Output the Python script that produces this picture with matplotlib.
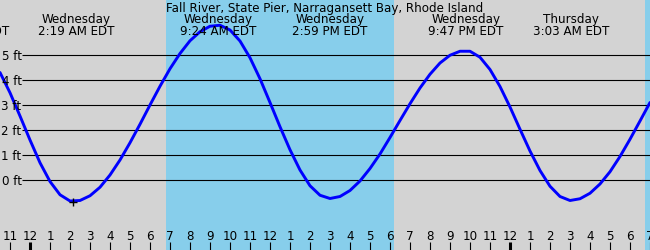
"""
Tide chart - Fall River, State Pier, Narragansett Bay, Rhode Island.
Horas contadas a partir da meia-noite de quarta-feira (EDT).
"""

import matplotlib
matplotlib.use("Agg")
import matplotlib.pyplot as plt
import numpy as np

TITLE = "Fall River, State Pier, Narragansett Bay, Rhode Island"

# leituras da curva (a cada meia hora, de -1.5 h a 31 h) em ft
HOURS = np.arange(-1.5, 31.01, 0.5)
HEIGHT_FT = [4.30, 3.49, 2.56, 1.60, 0.69, -0.06, -0.59, -0.84,
             -0.82, -0.63, -0.29, 0.20, 0.80, 1.49, 2.23, 3.00, 3.75, 4.45, 5.06, 5.57, 5.93, 6.15,
             6.19, 6.00, 5.56, 4.89, 4.05, 3.10, 2.13, 1.21, 0.40, -0.23, -0.61, -0.74,
             -0.66, -0.42, -0.04, 0.46, 1.04, 1.70, 2.38, 3.05, 3.68, 4.23, 4.68, 4.99, 5.15,
             5.15, 4.91, 4.42, 3.74, 2.92, 2.03, 1.16, 0.38, -0.25, -0.66, -0.82,
             -0.75, -0.53, -0.16, 0.33, 0.94, 1.63, 2.36, 3.10]

# preamar / baixa-mar
EVENT_HOURS = [-2.93, 2.317, 9.4, 14.983, 21.783, 27.05]
EVENT_DAYS = ["Tuesday", "Wednesday", "Wednesday", "Wednesday", "Wednesday", "Thursday"]
EVENT_TIMES = ["9:04 PM EDT", "2:19 AM EDT", "9:24 AM EDT", "2:59 PM EDT", "9:47 PM EDT", "3:03 AM EDT"]

# periodos de luz do dia (nascer, por do sol)
DAYLIGHT = [(6.8, 18.2), (30.75, 43.0)]

FT_LEVELS = [0, 1, 2, 3, 4, 5]
HOUR_TICKS = list(range(-1, 32))
NOW_HOUR, NOW_FT = 2.17, -0.88

X0, X1 = -1.5, 31.0
Y0, Y1 = -2.8, 7.2
FS = 8.6
GRAY = "#d3d3d3"
SKY = "#87ceeb"


def hour_label(h):
    v = h % 12
    return "12" if v == 0 else str(v)


def main():
    fig = plt.figure(figsize=(6.5, 2.5), dpi=100, facecolor=GRAY)
    ax = fig.add_axes([0, 0, 1, 1])
    ax.set_xlim(X0, X1); ax.set_ylim(Y0, Y1)
    ax.axis("off")

    for a, b in DAYLIGHT:
        ax.axvspan(a, b, color=SKY, lw=0, zorder=0)

    ax.hlines(FT_LEVELS, -0.4, X1, color="black", lw=0.8, zorder=1)
    for lv in FT_LEVELS:
        ax.text(-0.42, lv, f"{lv} ft", ha="right", va="center_baseline", fontsize=FS, zorder=3)

    ax.plot(HOURS, HEIGHT_FT, color="#0000ff", lw=2.1, solid_joinstyle="round",
            solid_capstyle="round", zorder=2)
    ax.plot([NOW_HOUR], [NOW_FT], marker="+", color="black", ms=6, mew=1, zorder=4)

    # eixo das horas
    tick_top = Y0 + 0.32
    for h in HOUR_TICKS:
        ax.vlines(h, Y0, tick_top, color="black", lw=2.2 if h % 24 == 0 else 0.8, zorder=3)
        ax.text(h, -2.4, hour_label(h), ha="center", va="baseline", fontsize=FS, zorder=3)

    # rotulos dos eventos
    for h, d, t in zip(EVENT_HOURS, EVENT_DAYS, EVENT_TIMES):
        xf = (h - X0) / (X1 - X0)
        fig.text(xf, 1 - 23 / 250, d, ha="center", va="baseline", fontsize=FS)
        fig.text(xf, 1 - 35 / 250, t, ha="center", va="baseline", fontsize=FS)

    fig.text(0.5, 1 - 12 / 250, TITLE, ha="center", va="baseline", fontsize=FS)

    fig.savefig("out.png", dpi=100, facecolor=GRAY)
    plt.close(fig)


if __name__ == "__main__":
    main()
